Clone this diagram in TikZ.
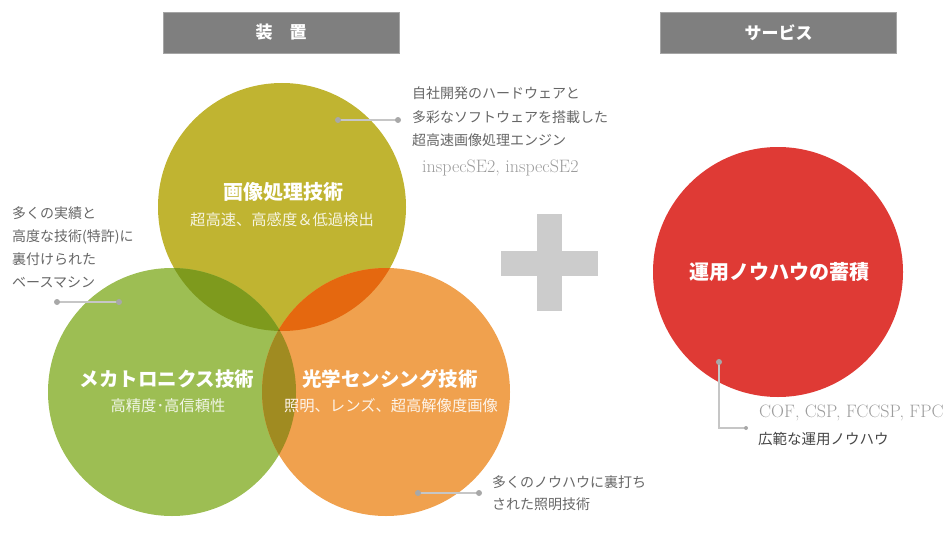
\documentclass[tikz,border=0pt]{standalone}
\usepackage{fontspec}
\newfontfamily\jp{Noto Sans CJK JP}
\definecolor{cY}{HTML}{C0B431}
\definecolor{cG}{HTML}{9DBE53}
\definecolor{cO}{HTML}{F0A14E}
\definecolor{cYG}{HTML}{7E9A1D}
\definecolor{cYO}{HTML}{E5680F}
\definecolor{cGO}{HTML}{A08B21}
\definecolor{cYGO}{HTML}{7C6414}
\definecolor{cR}{HTML}{DF3A35}
\definecolor{hdr}{HTML}{7F7F7F}
\definecolor{plusc}{HTML}{CCCCCC}
\definecolor{ann}{HTML}{666666}
\definecolor{leadc}{HTML}{C6C6C6}
\begin{document}
\begin{tikzpicture}[x=1pt,y=-1pt,
  hdrbox/.style={fill=hdr, draw=hdr!70!white, line width=0.6pt, minimum width=236pt, minimum height=41pt, inner sep=0, text=white, font=\jp\bfseries\fontsize{17}{20}\selectfont},
  ttl/.style={text=white, font=\jp\bfseries\fontsize{19.5}{22}\selectfont, inner sep=0},
  subt/.style={font=\jp\fontsize{15.3}{18}\selectfont, inner sep=0},
  anntext/.style={text=ann, font=\jp\fontsize{14}{23.5}\selectfont, align=left, inner sep=0, anchor=north west},
  leader/.style={draw=leadc, line width=1.2pt},
  dotc/.style={fill=leadc!85!black},
  serifnote/.style={text=ann!65!white, font=\fontsize{18}{21}\selectfont, inner sep=0, anchor=west}
]
\useasboundingbox (0,0) rectangle (948,551);

% headers
\node[hdrbox] (h1) at (281,32.5) {装\hspace{1em}置};
\node[hdrbox] (h2) at (778.5,32.5) {サービス};

% circle centres
\coordinate (cy) at (282,207);
\coordinate (cg) at (172,392);
\coordinate (co) at (386,392);
\coordinate (cr) at (778,272);

% base circles
\fill[cY] (cy) circle[radius=124pt];
\fill[cG] (cg) circle[radius=124pt];
\fill[cO] (co) circle[radius=124pt];
% overlaps
\begin{scope}
  \clip (cy) circle[radius=124pt];
  \fill[cYG] (cg) circle[radius=124pt];
  \fill[cYO] (co) circle[radius=124pt];
\end{scope}
\begin{scope}
  \clip (cg) circle[radius=124pt];
  \fill[cGO] (co) circle[radius=124pt];
\end{scope}
\begin{scope}
  \clip (cy) circle[radius=124pt];
  \clip (cg) circle[radius=124pt];
  \fill[cYGO] (co) circle[radius=124pt];
\end{scope}
\fill[cR] (cr) circle[radius=125pt];

% plus sign
\fill[plusc] (537,214) rectangle (562,311);
\fill[plusc] (501,251) rectangle (598,276);

% circle texts
\node[ttl, font=\jp\bfseries\fontsize{20}{22}\selectfont] (tY) at (283,192) {画像処理技術};
\node[subt, text=white!85!cY] (sY) at (282,220) {超高速、高感度＆低過検出};
\node[ttl] (tG) at (167,379) {メカトロニクス技術};
\node[subt, text=white!85!cG] (sG) at (168,406) {高精度･高信頼性};
\node[ttl] (tO) at (390,379) {光学センシング技術};
\node[subt, text=white!88!cO] (sO) at (391,406) {照明、レンズ、超高解像度画像};
\node[ttl, font=\jp\bfseries\fontsize{20}{24}\selectfont] (tR) at (779,272) {運用ノウハウの蓄積};

% annotation: image processing
\coordinate (aY1) at (338,120);
\coordinate (aY2) at (398,120);
\draw[leader] (aY1) -- (aY2);
\fill[dotc] (aY1) circle[radius=3pt];
\fill[dotc] (aY2) circle[radius=3pt];
\node[anntext] (nY) at (412,87) {自社開発のハードウェアと\\多彩なソフトウェアを搭載した\\超高速画像処理エンジン};
\node[serifnote] (iY) at (422,168) {inspecSE2, inspecSE2};

% annotation: mechatronics
\coordinate (aG1) at (57,302);
\coordinate (aG2) at (119,302);
\draw[leader] (aG1) -- (aG2);
\fill[dotc] (aG1) circle[radius=3pt];
\fill[dotc] (aG2) circle[radius=3pt];
\node[anntext, font=\jp\fontsize{14}{23}\selectfont] (nG) at (12,207) {多くの実績と\\高度な技術(特許)に\\裏付けられた\\ベースマシン};

% annotation: optics
\coordinate (aO1) at (418,493);
\coordinate (aO2) at (479,493);
\draw[leader] (aO1) -- (aO2);
\fill[dotc] (aO1) circle[radius=3pt];
\fill[dotc] (aO2) circle[radius=3pt];
\node[anntext, font=\jp\fontsize{14}{21.5}\selectfont] (nO) at (492,476) {多くのノウハウに裏打ち\\された照明技術};

% annotation: service
\coordinate (rA) at (719,362);
\coordinate (rC) at (746,428);
\draw[leader] (rA) |- (rC);
\fill[dotc] (rA) circle[radius=3pt];
\fill[dotc] (rC) circle[radius=2pt];
\node[serifnote] (nR1) at (759,413) {COF, CSP, FCCSP, FPC};
\node[anchor=west, inner sep=0, text=black!72, font=\jp\fontsize{14.5}{18}\selectfont] (nR2) at (758,439) {広範な運用ノウハウ};
\end{tikzpicture}
\end{document}
